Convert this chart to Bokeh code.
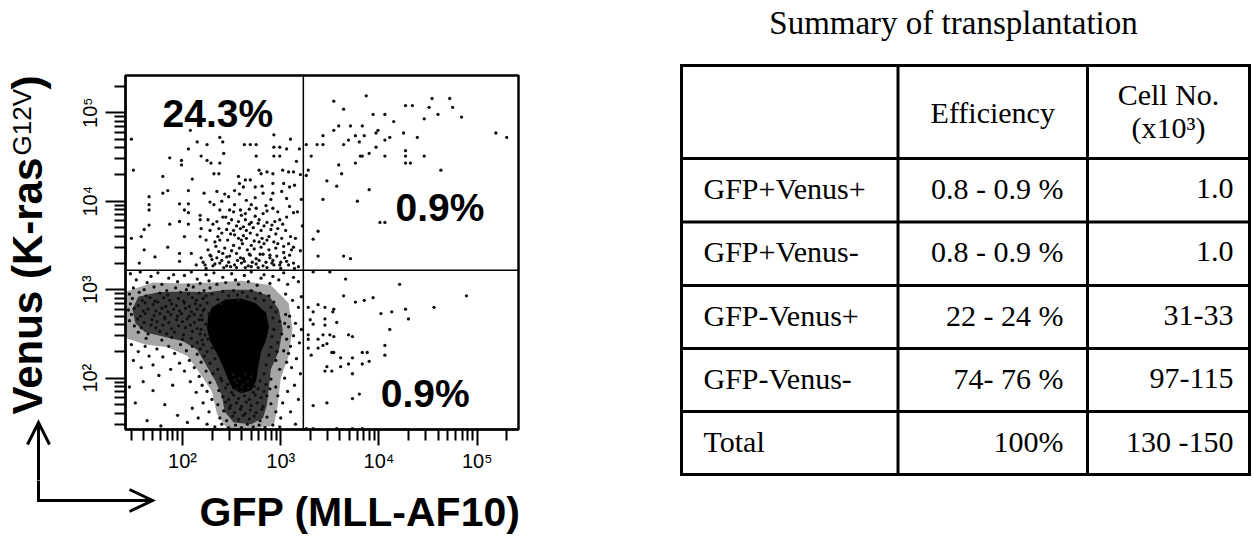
import math
from bokeh.plotting import figure
from bokeh.layouts import row, column
from bokeh.models import Range1d, FixedTicker, CustomJSTickFormatter, Span, ColumnDataSource
from bokeh.core.properties import value
from bokeh.embed import file_html
from bokeh.resources import INLINE

# ------------------------------------------------------------------ data
# flow cytometry events, (log10 GFP, log10 Venus)
events_gfp_neg_venus_pos = [
    (2.08,4.80),(2.93,4.75),(3.10,4.70),(1.48,4.70),(2.38,4.72),(2.41,4.67),(2.15,4.67),(2.25,4.64),
    (2.63,4.64),(2.69,4.64),(2.75,4.64),(2.93,4.61),(2.99,4.61),(3.06,4.59),(2.06,4.59),(1.87,4.49),
    (1.99,4.46),(1.99,4.41),(2.19,4.51),(2.25,4.46),(2.29,4.43),(2.38,4.43),(2.42,4.54),(2.75,4.51),
    (2.93,4.51),(2.99,4.51),(1.50,4.35),(1.80,4.28),(2.10,4.25),(2.32,4.31),(2.37,4.31),(2.57,4.28),
    (2.64,4.24),(2.69,4.24),(2.78,4.35),(2.80,4.31),(2.86,4.33),(2.92,4.31),(3.02,4.35),(3.08,4.33),
    (3.13,4.33),(2.58,4.20),(2.62,4.16),(2.74,4.16),(2.81,4.17),(2.92,4.20),(3.03,4.20),(3.09,4.16),
    (1.66,4.05),(1.85,4.12),(1.80,4.09),(2.06,4.12),(2.22,4.09),(2.35,4.11),(2.43,4.08),(2.47,4.05),
    (2.53,4.12),(2.58,4.08),(2.65,4.01),(2.74,4.04),(2.82,4.09),(2.92,4.09),(3.01,4.11),(3.06,4.03),
    (1.66,3.96),(1.66,3.90),(1.97,3.97),(2.06,3.97),(2.02,3.90),(2.06,3.87),(2.18,3.84),(2.28,3.99),
    (2.32,3.96),(2.38,3.90),(2.48,3.90),(2.53,3.96),(2.59,3.90),(2.64,3.86),(2.70,3.96),(2.75,3.92),
    (2.82,3.86),(2.86,3.89),(2.92,3.92),(3.09,3.94),(3.13,3.87),(1.87,3.74),(1.97,3.77),(2.06,3.74),
    (2.18,3.79),(2.26,3.79),(2.35,3.77),(2.41,3.82),(2.50,3.79),(2.57,3.77),(2.64,3.79),(2.70,3.76),
    (2.78,3.79),(2.86,3.76),(2.94,3.77),(2.99,3.79),(3.06,3.82),(1.61,3.68),(1.66,3.73),(2.19,3.69),
    (2.28,3.67),(2.37,3.69),(2.45,3.68),(2.52,3.67),(2.59,3.69),(2.65,3.67),(2.72,3.70),(2.80,3.67),
    (2.90,3.68),(2.97,3.69),(3.05,3.67),(1.48,3.58),(1.58,3.60),(1.85,3.48),(2.02,3.60),(2.18,3.60),
    (2.24,3.56),(2.33,3.54),(2.38,3.56),(2.46,3.56),(2.53,3.62),(2.60,3.56),(2.65,3.58),(2.70,3.50),
    (2.78,3.54),(2.86,3.56),(2.93,3.54),(3.01,3.58),(3.08,3.52),(3.13,3.48),(1.61,3.45),(1.72,3.37),
    (1.97,3.41),(2.09,3.41),(2.19,3.36),(2.28,3.39),(2.35,3.36),(2.41,3.41),(2.48,3.38),(2.55,3.41),
    (2.62,3.35),(2.69,3.39),(2.75,3.35),(2.82,3.40),(2.89,3.36),(2.96,3.38),(3.03,3.42),(3.09,3.39),
    (1.56,3.30),(1.97,3.32),(2.14,3.28),(2.23,3.28),(2.31,3.27),(2.38,3.30),(2.45,3.27),(2.53,3.28),
    (2.60,3.30),(2.67,3.27),(2.75,3.29),(2.82,3.27),(2.91,3.30),(2.99,3.28),(3.06,3.32),
    (2.21,3.31),(2.26,3.45),(2.30,3.34),(2.34,3.49),(2.40,3.33),(2.43,3.47),(2.47,3.31),(2.50,3.44),
    (2.56,3.33),(2.58,3.47),(2.63,3.32),(2.66,3.45),(2.71,3.31),(2.73,3.46),(2.78,3.33),(2.80,3.48),
    (2.85,3.31),(2.88,3.45),(2.92,3.33),(2.95,3.47),(3.00,3.31),(3.03,3.49),(2.36,3.60),(2.49,3.63),
    (2.62,3.61),(2.76,3.62),(2.88,3.60),(2.55,3.72),(2.68,3.74),(2.83,3.72),(2.44,3.82),(2.60,3.84),
    (2.74,3.83),(3.19,4.59),(3.16,4.45),(3.20,4.30),(3.14,4.18),(3.21,4.02),(3.17,3.88),(3.22,3.72),
    (3.15,3.58),(3.20,3.44),(3.13,3.30),(3.18,3.26),
    (2.24,3.24),(2.29,3.38),(2.33,3.29),(2.37,3.43),(2.42,3.25),(2.45,3.37),(2.49,3.26),(2.52,3.50),
    (2.55,3.25),(2.59,3.36),(2.61,3.52),(2.64,3.25),(2.68,3.40),(2.70,3.26),(2.73,3.55),(2.77,3.25),
    (2.79,3.40),(2.83,3.52),(2.86,3.25),(2.89,3.39),(2.93,3.28),(2.97,3.52),(3.00,3.24),(3.04,3.36),
    (3.08,3.28),(3.11,3.45),(3.14,3.24),(2.40,3.64),(2.57,3.58),(2.69,3.64),(2.81,3.58),(2.95,3.63),
    (3.10,3.60),(2.31,3.74),(2.47,3.75),(2.62,3.71),(2.77,3.75),(2.91,3.73),(3.02,3.74),(2.52,3.88),
    (2.68,3.91),(2.85,3.95),(2.97,3.88),(2.40,4.00),(2.90,4.02),
]
events_gfp_pos_venus_pos = [
    (3.54,5.13),(3.87,5.19),(3.64,5.04),(4.27,5.08),(4.34,5.08),(4.54,5.16),(4.72,5.16),(4.51,5.06),
    (4.75,5.06),(3.94,4.98),(4.06,4.98),(4.60,4.98),(4.84,4.95),(4.46,4.93),(4.15,4.90),(3.59,4.85),
    (3.71,4.85),(3.83,4.85),(3.54,4.80),(3.76,4.74),(3.85,4.74),(3.97,4.77),(3.99,4.80),(4.25,4.77),
    (4.39,4.72),(3.43,4.74),(4.11,4.72),(4.06,4.69),(3.80,4.67),(3.69,4.69),(3.64,4.64),(3.43,4.64),
    (3.37,4.64),(3.26,4.64),(3.31,4.51),(3.81,4.51),(3.83,4.51),(3.90,4.54),(3.97,4.61),(4.06,4.51),
    (4.27,4.57),(4.27,4.51),(4.46,4.51),(3.59,4.41),(3.76,4.43),(4.27,4.43),(4.32,4.43),(4.63,4.35),
    (3.62,4.31),(3.47,4.23),(3.57,4.17),(3.90,4.13),(3.43,4.02),(3.78,4.00),(5.19,4.77),(5.30,4.72),
    (4.01,3.76),(4.06,3.76),(3.38,3.66),(3.33,3.57),(3.38,3.38),(3.64,3.38),(3.71,3.35),(3.28,4.35),
    (3.26,4.29),
]
events_gfp_pos_venus_neg = [
    (3.33,3.20),(3.50,3.20),(3.66,3.12),(4.21,3.06),(4.89,2.93),(3.64,2.93),(3.76,2.86),(3.85,2.88),
    (3.94,2.91),(4.56,2.80),(3.38,2.83),(3.45,2.80),(3.28,2.80),(3.33,2.75),(3.53,2.75),(3.54,2.78),
    (4.02,2.73),(4.13,2.75),(4.27,2.78),(4.30,2.67),(3.45,2.67),(3.30,2.66),(3.33,2.61),(3.57,2.63),
    (3.45,2.60),(4.11,2.55),(3.28,2.49),(3.43,2.49),(3.50,2.49),(3.54,2.47),(3.69,2.49),(3.73,2.47),
    (3.28,2.44),(3.38,2.44),(3.28,2.34),(3.38,2.34),(3.43,2.37),(3.47,2.39),(3.52,2.29),(3.54,2.29),
    (3.31,2.26),(3.61,2.23),(3.73,2.23),(3.83,2.29),(3.88,2.29),(4.06,2.37),(4.06,2.26),(3.69,2.16),
    (3.61,2.13),(3.47,2.13),(3.45,2.08),(3.52,2.08),(3.83,2.16),(3.90,2.19),(3.73,2.05),(3.73,1.77),
    (3.80,1.82),(3.33,1.69),(3.47,1.72),(3.26,1.43),(3.33,1.43),(3.57,1.43),(3.73,1.43),(3.83,1.43),
]
events_gfp_neg_venus_neg = [
    (1.47,3.18),(1.53,3.11),(1.57,3.20),(1.64,3.08),(1.68,3.15),(1.75,3.19),(1.79,3.06),(1.86,3.13),
    (1.91,3.17),(1.95,3.09),(2.02,3.16),(2.06,3.05),(2.09,3.20),(2.15,3.12),(2.18,3.07),(2.24,3.17),
    (2.27,3.10),(2.32,3.19),(2.35,3.06),(2.41,3.14),(2.44,3.08),(2.50,3.18),(2.54,3.11),(2.57,3.06),
    (2.63,3.16),(2.67,3.09),(2.70,3.20),(2.76,3.05),(2.80,3.13),(2.83,3.17),(2.89,3.07),(2.92,3.15),
    (2.98,3.11),(3.03,3.19),(3.07,3.06),(3.13,3.14),(3.18,3.09),
    (1.50,3.02),(1.61,3.00),(1.71,3.03),(1.84,2.99),(1.93,3.02),(2.04,3.00),(2.11,3.03),(2.22,2.99),
    (2.28,3.02),(1.46,2.95),(1.56,2.97),(1.63,2.93),(1.77,2.96),(1.85,2.94),(1.98,2.97),(2.06,2.95),
    (2.17,2.96),(2.24,2.93),(1.49,2.90),(1.59,2.88),(1.67,2.91),(1.72,2.87),(1.81,2.91),(1.87,2.88),
    (1.96,2.90),(2.01,2.87),(2.10,2.91),(2.14,2.88),(2.21,2.90),(1.47,2.84),(1.55,2.82),(1.62,2.85),
    (1.70,2.83),(1.75,2.86),(1.83,2.81),(1.89,2.84),(1.94,2.82),(2.02,2.85),(2.07,2.81),(2.13,2.84),
    (2.18,2.82),(2.25,2.85),(1.45,2.77),(1.51,2.79),(1.60,2.76),(1.65,2.78),(1.73,2.76),(1.79,2.79),
    (1.85,2.75),(1.91,2.78),(1.97,2.76),(2.03,2.79),(2.09,2.75),(2.15,2.78),(2.21,2.76),(1.48,2.72),
    (1.57,2.70),(1.62,2.73),(1.71,2.71),(1.77,2.73),(1.82,2.69),(1.88,2.72),(1.95,2.70),(1.99,2.73),
    (2.07,2.70),(2.12,2.72),(2.19,2.71),(1.46,2.65),(1.54,2.67),(1.61,2.63),(1.69,2.66),(1.74,2.64),
    (1.82,2.67),(1.86,2.63),(1.94,2.66),(2.00,2.64),(2.05,2.67),(2.12,2.63),(2.17,2.66),(1.51,2.59),
    (1.58,2.57),(1.68,2.60),(1.73,2.57),(1.80,2.60),(1.89,2.56),(1.96,2.59),(2.03,2.57),(2.08,2.60),
    (2.15,2.56),(1.55,2.52),(1.65,2.50),(1.77,2.53),(1.84,2.50),(1.92,2.52),(2.01,2.49),(2.10,2.53),
    (2.18,2.50),(1.63,2.45),(1.79,2.43),(1.89,2.46),(2.00,2.44),(2.09,2.45),(2.20,2.43),
    (2.30,2.95),(2.36,2.89),(2.41,2.98),(2.47,2.93),(2.52,2.99),(2.56,2.94),(2.61,2.97),(2.66,2.92),
    (2.70,2.99),(2.74,2.90),(2.79,2.96),(2.83,2.88),(2.88,2.93),(2.93,2.86),(2.39,2.84),(2.57,2.88),
    (2.90,2.80),(2.95,2.75),(2.92,2.68),(2.99,2.64),(2.93,2.55),(3.01,2.50),(2.91,2.47),(2.97,2.40),
    (2.90,2.35),(3.03,2.31),(2.88,2.26),(2.95,2.20),(2.85,2.15),(2.99,2.10),(2.83,2.05),(2.90,1.99),
    (3.05,2.72),(3.08,2.58),(3.06,2.44),(3.10,2.36),(3.04,2.62),(2.96,2.30),(2.22,2.78),(2.27,2.73),
    (2.20,2.66),(2.24,2.61),(2.19,2.55),(2.23,2.49),(2.26,2.44),(2.21,2.38),(2.30,2.34),(2.25,2.30),
    (2.33,2.22),(2.28,2.17),(2.36,2.10),(2.31,2.05),(2.39,2.00),(2.22,2.25),(2.18,2.33),(2.15,2.40),
    (2.40,1.97),(2.46,1.93),(2.53,1.98),(2.60,1.90),(2.66,1.96),(2.73,1.91),(2.79,1.97),(2.85,1.93),
    (2.37,1.86),(2.44,1.89),(2.50,1.84),(2.55,1.88),(2.61,1.85),(2.67,1.89),(2.72,1.84),(2.77,1.88),
    (2.83,1.85),(2.89,1.88),(2.41,1.79),(2.47,1.76),(2.52,1.81),(2.57,1.77),(2.63,1.80),(2.68,1.76),
    (2.74,1.81),(2.80,1.78),(2.86,1.80),(2.36,1.70),(2.44,1.73),(2.49,1.69),(2.55,1.72),(2.60,1.68),
    (2.65,1.73),(2.70,1.69),(2.76,1.72),(2.82,1.68),(2.90,1.71),(2.42,1.63),(2.48,1.66),(2.53,1.61),
    (2.59,1.65),(2.64,1.60),(2.69,1.64),(2.75,1.61),(2.81,1.65),(2.38,1.55),(2.45,1.52),(2.51,1.57),
    (2.57,1.53),(2.62,1.58),(2.68,1.54),(2.73,1.57),(2.79,1.52),(2.86,1.56),(2.33,1.45),(2.40,1.48),
    (2.47,1.44),(2.54,1.47),(2.60,1.44),(2.66,1.48),(2.72,1.45),(2.78,1.47),(2.84,1.44),(2.92,1.47),
    (2.99,1.45),(2.52,2.04),(2.58,2.00),(2.64,2.05),(2.70,2.02),(2.55,1.95),(2.62,1.93),
    (3.05,2.95),(3.12,2.88),(3.18,2.80),(3.09,2.70),(3.15,2.62),(3.21,2.55),(3.13,2.48),(3.19,2.40),
    (3.08,2.28),(3.16,2.22),(3.11,2.12),(3.20,2.05),(3.04,2.00),(3.14,1.92),(3.07,1.85),(3.18,1.76),
    (3.02,1.72),(3.10,1.62),(3.00,1.55),(3.15,1.48),(2.95,1.62),(2.97,1.80),(3.21,2.92),(3.06,2.18),
    (2.95,1.90),
    (1.48,2.38),(1.55,2.30),(1.62,2.36),(1.50,2.20),(1.66,2.25),(1.74,2.33),(1.58,2.12),(1.70,2.15),
    (1.80,2.24),(1.86,2.36),(1.92,2.28),(1.98,2.38),(2.04,2.31),(2.10,2.36),(2.15,2.27),(2.07,2.20),
    (1.97,2.17),(1.88,2.10),(2.02,2.08),(2.12,2.12),(2.19,2.18),(2.24,2.08),(2.17,2.02),(2.08,1.96),
    (2.20,1.92),(2.28,1.95),(2.25,1.85),(2.14,1.84),(2.30,1.76),(2.21,1.72),(2.10,1.66),(2.27,1.62),
    (2.16,1.55),(2.05,1.50),(2.25,1.48),(1.95,1.58),(1.82,1.70),(1.70,1.86),(1.60,1.96),(1.52,1.72),
    (1.64,1.52),(1.78,1.46),(1.90,1.92),(1.76,2.03),(1.46,1.90),
]
# density contours of the GFP-Venus- population (log10 GFP, log10 Venus)
density_low_outline = [
    (1.43,2.98),(1.70,3.08),(2.00,3.07),(2.30,3.08),(2.60,3.10),(2.90,3.05),(3.08,2.85),(3.12,2.55),
    (3.08,2.25),(3.00,2.00),(2.97,1.70),(2.93,1.46),(2.70,1.43),(2.45,1.43),(2.35,1.60),(2.30,1.85),
    (2.18,2.05),(2.05,2.25),(1.85,2.35),(1.62,2.38),(1.43,2.45),
]
density_mid_outline = [
    (1.55,2.92),(1.75,2.97),(2.00,2.98),(2.25,2.97),(2.45,3.00),(2.70,3.00),(2.88,2.93),(2.98,2.78),
    (3.02,2.55),(2.98,2.30),(2.90,2.10),(2.88,1.90),(2.86,1.70),(2.82,1.55),(2.70,1.48),(2.52,1.50),
    (2.43,1.62),(2.40,1.80),(2.33,1.98),(2.24,2.15),(2.15,2.32),(2.00,2.42),(1.80,2.47),(1.62,2.52),
    (1.52,2.62),(1.49,2.78),
]
density_core_outline = [
    (2.30,2.80),(2.44,2.89),(2.60,2.90),(2.74,2.85),(2.85,2.74),(2.88,2.58),(2.85,2.43),(2.80,2.30),
    (2.77,2.12),(2.75,1.97),(2.70,1.86),(2.60,1.83),(2.51,1.88),(2.46,2.00),(2.41,2.14),(2.35,2.28),
    (2.28,2.42),(2.25,2.56),(2.26,2.70),
]
gate_gfp_log = 3.23
gate_venus_log = 3.22
quadrant_labels = ["24.3%", "0.9%", "0.9%"]
quadrant_label_gfp_log = [2.36, 4.62, 4.47]
quadrant_label_venus_log = [4.82, 3.75, 1.65]
axis_min_log, axis_max_log = 1.42, 5.42
major_ticks = [100, 1000, 10000, 100000]
x_title = "GFP (MLL-AF10)"
y_title_main, y_title_sup, y_title_end = "Venus (K-ras", "G12V", ")"

table_title = "Summary of transplantation"
header_efficiency = "Efficiency"
header_cells = ["Cell No.", "(x10\u00b3)"]
row_names = ["GFP+Venus+", "GFP+Venus-", "GFP-Venus+", "GFP-Venus-", "Total"]
efficiency = ["0.8 - 0.9 %", "0.8 - 0.9 %", "22 - 24 %", "74- 76 %", "100%"]
cell_numbers = ["1.0", "1.0", "31-33", "97-115", "130 -150"]

# ------------------------------------------------------------------ layout (window pixels)
LEFT_W, SCAT_W, TOP_H, BOT_H, TAB_W = 70, 530, 480, 56, 653
FRAME_L, FRAME_T, FRAME_W, FRAME_H = 125, 75, 393, 354
SANS = value("Liberation Sans")
SERIF = value("Liberation Serif")
BASE_SHIFT = 0.4   # em; brings the drawn alphabetic baseline onto the wanted line


def bl(y, size):
    """screen line wanted for the text baseline -> value to hand to the text glyph"""
    return y - BASE_SHIFT * size


def no_align(fig):
    if "frame_align" in fig.properties():
        fig.frame_align = False


def deco_figure(x0, x1, y0, y1):
    f = figure(width=x1 - x0, height=y1 - y0, x_range=Range1d(x0, x1), y_range=Range1d(y1, y0),
               min_border=0, output_backend="svg", toolbar_location=None,
               x_axis_location=None, y_axis_location=None)
    f.grid.visible = False
    f.outline_line_color = None
    f.background_fill_color = "white"
    f.border_fill_color = "white"
    no_align(f)
    return f

# ------------------------------------------------------------------ scatter figure
lo, hi = 10 ** axis_min_log, 10 ** axis_max_log
p1 = figure(x_axis_type="log", y_axis_type="log",
            x_range=Range1d(lo, hi), y_range=Range1d(lo, hi),
            frame_width=FRAME_W, frame_height=FRAME_H,
            min_border_left=FRAME_L - LEFT_W, min_border_top=FRAME_T,
            min_border_right=LEFT_W + SCAT_W - FRAME_L - FRAME_W,
            min_border_bottom=TOP_H - FRAME_T - FRAME_H,
            output_backend="svg", toolbar_location=None)
no_align(p1)
p1.grid.visible = False
p1.outline_line_color = "black"
p1.outline_line_width = 2.5
p1.background_fill_color = "white"
p1.border_fill_color = "white"

minor = [k * 10 ** n for n in range(1, 6) for k in range(2, 10) if lo <= k * 10 ** n <= hi]
fmt_code = """
const sup = {"1":"\u00b9","2":"\u00b2","3":"\u00b3","4":"\u2074","5":"\u2075"};
const e = Math.round(Math.log10(tick));
return "10" + (sup[String(e)] ?? String(e));
"""
for ax in (p1.xaxis[0], p1.yaxis[0]):
    ax.ticker = FixedTicker(ticks=major_ticks, minor_ticks=minor)
    ax.formatter = CustomJSTickFormatter(code=fmt_code)
    ax.axis_line_width = 2
    ax.major_tick_line_width = 2
    ax.minor_tick_line_width = 2
    ax.major_tick_in = 0
    ax.minor_tick_in = 0
    ax.major_label_text_font = "Liberation Sans"
    ax.major_label_text_font_size = "20px"
    ax.major_label_text_color = "black"
p1.xaxis.major_tick_out = 16
p1.xaxis.minor_tick_out = 11
p1.xaxis.major_label_standoff = 4
p1.yaxis.major_tick_out = 20
p1.yaxis.minor_tick_out = 11
p1.yaxis.major_label_standoff = 4
p1.yaxis.major_label_orientation = "vertical"

for outline, alpha in ((density_low_outline, 0.35), (density_mid_outline, 0.65), (density_core_outline, 1.0)):
    p1.patch([10 ** a for a, b in outline], [10 ** b for a, b in outline],
             fill_color="black", fill_alpha=alpha, line_color=None)

all_events = (events_gfp_neg_venus_pos + events_gfp_pos_venus_pos +
              events_gfp_pos_venus_neg + events_gfp_neg_venus_neg)
src = ColumnDataSource(dict(gfp=[10 ** a for a, b in all_events],
                            venus=[10 ** b for a, b in all_events]))
p1.scatter("gfp", "venus", source=src, marker="circle", size=3.3,
           fill_color="#111111", line_color=None)

p1.add_layout(Span(location=10 ** gate_gfp_log, dimension="height", line_color="black", line_width=1.5))
p1.add_layout(Span(location=10 ** gate_venus_log, dimension="width", line_color="black", line_width=1.5))

q_size = 39
q_shift_log = BASE_SHIFT * q_size * (axis_max_log - axis_min_log) / FRAME_H
p1.text(x=[10 ** v for v in quadrant_label_gfp_log],
        y=[10 ** (v + q_shift_log) for v in quadrant_label_venus_log],
        text=quadrant_labels, text_font=SANS, text_font_style="bold", text_font_size=f"{q_size}px",
        text_align="center", text_baseline="alphabetic", text_color="black")

# ------------------------------------------------------------------ axis titles and arrows
pL = deco_figure(0, LEFT_W, 0, TOP_H)
# rotated text: the baseline runs vertically, the em-correction acts along -x
pL.text(x=[44 - BASE_SHIFT * 42], y=[414], text=[y_title_main], angle=math.pi / 2, text_font=SANS,
        text_font_style="bold", text_font_size="42px", text_align="left", text_baseline="alphabetic")
pL.text(x=[32 - BASE_SHIFT * 26], y=[155], text=[y_title_sup], angle=math.pi / 2, text_font=SANS,
        text_font_size="26px", text_align="left", text_baseline="alphabetic")
pL.text(x=[44 - BASE_SHIFT * 42], y=[89], text=[y_title_end], angle=math.pi / 2, text_font=SANS,
        text_font_style="bold", text_font_size="42px", text_align="left", text_baseline="alphabetic")
pL.multi_line(xs=[[38, 38], [27, 38, 49]], ys=[[TOP_H + 2, 422], [444, 422, 444]],
              line_width=3, line_color="black", line_join="miter")

pB = deco_figure(0, LEFT_W + SCAT_W, TOP_H, TOP_H + BOT_H)
pB.multi_line(xs=[[38, 38, 152], [129, 152, 129]], ys=[[TOP_H - 2, 500, 500], [489, 500, 511]],
              line_width=3, line_color="black", line_join="miter")
pB.text(x=[199], y=[bl(528, 41)], text=[x_title], text_font=SANS, text_font_style="bold",
        text_font_size="41px", text_align="left", text_baseline="alphabetic")

# ------------------------------------------------------------------ table figure
X0 = LEFT_W + SCAT_W
p2 = deco_figure(X0, X0 + TAB_W, 0, TOP_H + BOT_H)

col_lines = [681, 897.5, 1087, 1249]
row_lines = [65, 158, 221.5, 285, 348, 411, 474]
p2.segment(x0=[col_lines[0] - 1.5] * len(row_lines), y0=row_lines,
           x1=[col_lines[-1] + 1.5] * len(row_lines), y1=row_lines, line_width=3, line_color="black")
p2.segment(x0=col_lines, y0=[row_lines[0]] * len(col_lines),
           x1=col_lines, y1=[row_lines[-1]] * len(col_lines), line_width=3, line_color="black")

T = 30
p2.text(x=[953], y=[bl(36, 33)], text=[table_title], text_font=SERIF, text_font_size="33px",
        text_align="center", text_baseline="alphabetic", text_color="black")
p2.text(x=[(col_lines[1] + col_lines[2]) / 2], y=[bl(124, T)], text=[header_efficiency], text_font=SERIF,
        text_font_size=f"{T}px", text_align="center", text_baseline="alphabetic", text_color="black")
p2.text(x=[(col_lines[2] + col_lines[3]) / 2] * 2, y=[bl(106, T), bl(139, T)], text=header_cells,
        text_font=SERIF, text_font_size=f"{T}px", text_align="center", text_baseline="alphabetic",
        text_color="black")
baselines = [bl((row_lines[i + 1] + row_lines[i + 2]) / 2 + 10, T) for i in range(len(row_names))]
p2.text(x=[703] * len(row_names), y=baselines, text=row_names, text_font=SERIF, text_font_size=f"{T}px",
        text_align="left", text_baseline="alphabetic", text_color="black")
p2.text(x=[1063] * len(efficiency), y=baselines, text=efficiency, text_font=SERIF, text_font_size=f"{T}px",
        text_align="right", text_baseline="alphabetic", text_color="black")
p2.text(x=[1233] * len(cell_numbers), y=baselines, text=cell_numbers, text_font=SERIF,
        text_font_size=f"{T}px", text_align="right", text_baseline="alphabetic", text_color="black")

layout = row(column(row(pL, p1), pB), p2)
open("out.html", "w").write(file_html(layout, INLINE))
